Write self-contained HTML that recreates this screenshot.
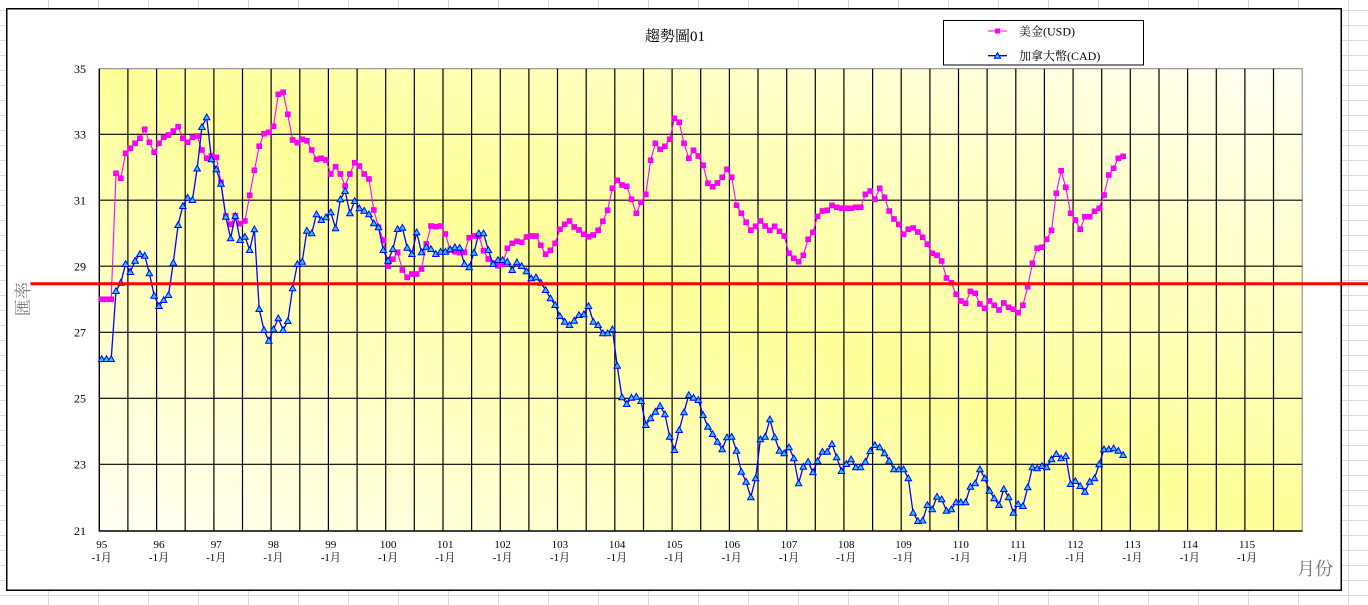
<!DOCTYPE html>
<html><head><meta charset="utf-8">
<style>
html,body{margin:0;padding:0;background:#fff;}
svg{display:block;}
.t{font-family:"Liberation Serif","Noto Serif CJK SC","Noto Sans CJK TC",serif;}
</style></head>
<body>
<svg width="1368" height="605" viewBox="0 0 1368 605" xmlns="http://www.w3.org/2000/svg">
<defs>
<linearGradient id="bg" x1="0" y1="1" x2="1" y2="0">
<stop offset="0" stop-color="#fffff4"/>
<stop offset="0.5" stop-color="#ffff99"/>
<stop offset="1" stop-color="#fffff4"/>
</linearGradient>
<marker id="sq" markerUnits="userSpaceOnUse" markerWidth="6" markerHeight="6" refX="3" refY="3" viewBox="0 0 6 6" orient="0">
<rect x="0.5" y="0.5" width="5" height="5" fill="#ff00ff" stroke="#e000e0" stroke-width="0.6"/>
</marker>
<marker id="tri" markerUnits="userSpaceOnUse" markerWidth="8" markerHeight="8" refX="4" refY="4.3" viewBox="0 0 8 8" orient="0">
<path d="M4 1 L7.3 6.8 L0.7 6.8 Z" fill="#22ccff" stroke="#0000ff" stroke-width="1"/>
</marker>
</defs>

<!-- worksheet grid -->
<g stroke="#dadada" stroke-width="1">
<path d="M48.5 0V605M98.5 0V605M148.5 0V605M198.5 0V605M248.5 0V605M298.5 0V605M348.5 0V605M398.5 0V605M448.5 0V605M498.5 0V605M548.5 0V605M598.5 0V605M648.5 0V605M698.5 0V605M748.5 0V605M798.5 0V605M848.5 0V605M898.5 0V605M948.5 0V605M998.5 0V605M1048.5 0V605M1098.5 0V605M1148.5 0V605M1198.5 0V605M1248.5 0V605M1298.5 0V605M1348.5 0V605"/>
<path d="M0 10.5H1368M0 25.5H1368M0 40.5H1368M0 55.5H1368M0 70.5H1368M0 85.5H1368M0 100.5H1368M0 115.5H1368M0 130.5H1368M0 145.5H1368M0 160.5H1368M0 175.5H1368M0 190.5H1368M0 205.5H1368M0 220.5H1368M0 235.5H1368M0 250.5H1368M0 265.5H1368M0 280.5H1368M0 295.5H1368M0 310.5H1368M0 325.5H1368M0 340.5H1368M0 355.5H1368M0 370.5H1368M0 385.5H1368M0 400.5H1368M0 415.5H1368M0 430.5H1368M0 445.5H1368M0 460.5H1368M0 475.5H1368M0 490.5H1368M0 505.5H1368M0 520.5H1368M0 535.5H1368M0 550.5H1368M0 565.5H1368M0 580.5H1368M0 595.5H1368"/>
</g>

<!-- chart area -->
<rect x="6.75" y="8.75" width="1334.5" height="581.5" fill="#fff" stroke="#000" stroke-width="1.5"/>

<!-- plot area -->
<rect x="99.3" y="68.7" width="1202.9" height="462.3" fill="url(#bg)" stroke="#808080" stroke-width="1"/>

<!-- gridlines -->
<g stroke="#000" stroke-width="1.2" fill="none">
<path d="M99.3 134.3H1302.2M99.3 200.2H1302.2M99.3 266.2H1302.2M99.3 332.3H1302.2M99.3 398.3H1302.2M99.3 464.3H1302.2"/>
<path d="M127.9 68.7V531M156.6 68.7V531M185.2 68.7V531M213.9 68.7V531M242.5 68.7V531M271.1 68.7V531M299.8 68.7V531M328.4 68.7V531M357.1 68.7V531M385.7 68.7V531M414.3 68.7V531M443 68.7V531M471.6 68.7V531M500.3 68.7V531M528.9 68.7V531M557.5 68.7V531M586.2 68.7V531M614.8 68.7V531M643.5 68.7V531M672.1 68.7V531M700.7 68.7V531M729.4 68.7V531M758 68.7V531M786.7 68.7V531M815.3 68.7V531M843.9 68.7V531M872.6 68.7V531M901.2 68.7V531M929.9 68.7V531M958.5 68.7V531M987.1 68.7V531M1015.8 68.7V531M1044.4 68.7V531M1073.1 68.7V531M1101.7 68.7V531M1130.3 68.7V531M1159 68.7V531M1187.6 68.7V531M1216.3 68.7V531M1244.9 68.7V531M1273.5 68.7V531"/>
<path d="M99.3 68.7V531.5M99 531H1302.5" stroke-width="1.4"/>
</g>

<!-- USD series -->
<polyline fill="none" stroke="#ff00ff" stroke-width="1.1" marker-start="url(#sq)" marker-mid="url(#sq)" marker-end="url(#sq)" points="101.7,299.3 106.5,299.3 111.2,299.3 116.0,173.3 120.8,178.3 125.6,153.3 130.3,148.3 135.1,143.3 139.9,138.3 144.7,129.3 149.4,142.3 154.2,152.3 159.0,143.3 163.7,137.3 168.5,135 173.3,131 178.1,126.7 182.8,138.3 187.6,142.3 192.4,137.3 197.2,136 201.9,150 206.7,158.3 211.5,155.7 216.3,157.3 221.0,182.3 225.8,216 230.6,224.3 235.3,215.7 240.1,223.7 244.9,221 249.7,195.3 254.4,170.3 259.2,146.3 264.0,133.7 268.8,132.3 273.5,126.3 278.3,94.3 283.1,92.3 287.8,114.3 292.6,140 297.4,142.7 302.2,139.3 306.9,140.7 311.7,150 316.5,159.3 321.3,158.3 326.0,160 330.8,174 335.6,166.7 340.4,174 345.1,186 349.9,174 354.7,162.7 359.4,166 364.2,174 369.0,179 373.8,210 378.5,227.3 383.3,240 388.1,266 392.9,259.3 397.6,252.3 402.4,270 407.2,277.3 411.9,274 416.7,274 421.5,269 426.3,244 431.0,226 435.8,226.7 440.6,226 445.4,234 450.1,250 454.9,251.7 459.7,252.7 464.4,252.3 469.2,237.7 474.0,236 478.8,236 483.5,250.7 488.3,259 493.1,263.3 497.9,265.7 502.6,264.3 507.4,248.3 512.2,243.3 516.9,241.3 521.7,242.3 526.5,237 531.3,236 536.0,236 540.8,245.3 545.6,254.3 550.4,250.3 555.1,243.3 559.9,229.3 564.7,224.3 569.5,221 574.2,227 579.0,230 583.8,234.3 588.5,236.7 593.3,235 598.1,230.3 602.9,221.3 607.6,210.3 612.4,188.3 617.2,180.3 622.0,185 626.7,186.3 631.5,199.3 636.3,213.3 641.0,202.3 645.8,194.3 650.6,160.3 655.4,143.3 660.1,149.3 664.9,146.3 669.7,139.3 674.5,118.3 679.2,122.3 684.0,143.3 688.8,158.3 693.5,150.3 698.3,156 703.1,165.3 707.9,183.3 712.6,186.7 717.4,183 722.2,177.3 727.0,169.3 731.7,177.3 736.5,205.3 741.3,213.3 746.1,222.3 750.8,230.3 755.6,226.3 760.4,221 765.1,226 769.9,230.3 774.7,226.3 779.5,231.3 784.2,236 789.0,253.3 793.8,258.3 798.6,261.7 803.3,255.3 808.1,239.3 812.9,232.3 817.6,216.3 822.4,211 827.2,210.3 832.0,205.3 836.7,207.3 841.5,208.3 846.3,208.3 851.1,208.3 855.8,207.3 860.6,207.3 865.4,194.3 870.2,191 874.9,199.3 879.7,188.3 884.5,197.3 889.2,211 894.0,219 898.8,224.3 903.6,234.3 908.3,229.3 913.1,228 917.9,232 922.7,237.3 927.4,244.3 932.2,253.3 937.0,255.3 941.7,261 946.5,278 951.3,282.7 956.1,294.3 960.8,301 965.6,303.3 970.4,291.3 975.2,293.3 979.9,304 984.7,308.3 989.5,301 994.2,305.3 999.0,310 1003.8,303 1008.6,307.3 1013.3,309.3 1018.1,312.7 1022.9,305.3 1027.7,286.7 1032.4,263.3 1037.2,248.3 1042.0,247.3 1046.7,239.3 1051.5,230.3 1056.3,193.3 1061.1,170.7 1065.8,187.3 1070.6,213.3 1075.4,220 1080.2,229.3 1084.9,216.7 1089.7,216.7 1094.5,211.3 1099.2,208.3 1104.0,195 1108.8,175 1113.6,168.3 1118.3,158.3 1123.1,156.3"/>

<!-- CAD series -->
<polyline fill="none" stroke="#0000ff" stroke-width="1.3" marker-start="url(#tri)" marker-mid="url(#tri)" marker-end="url(#tri)" points="101.7,359 106.5,359 111.2,359 116.0,291 120.8,282.7 125.6,264 130.3,272 135.1,260.7 139.9,254 144.7,255.7 149.4,273.3 154.2,295.7 159.0,306 163.7,300 168.5,295 173.3,262.7 178.1,225 182.8,206 187.6,197.7 192.4,200 197.2,168.5 201.9,127 206.7,117.3 211.5,159.3 216.3,169.3 221.0,183.8 225.8,216.7 230.6,238.3 235.3,216 240.1,240 244.9,236.7 249.7,250 254.4,229.3 259.2,309 264.0,330 268.8,340.7 273.5,329.3 278.3,318.3 283.1,330 287.8,321 292.6,288.3 297.4,264 302.2,261.7 306.9,230.7 311.7,233.3 316.5,214.3 321.3,220 326.0,217.3 330.8,212.3 335.6,228.3 340.4,199.3 345.1,191 349.9,213.3 354.7,201 359.4,208.3 364.2,210.7 369.0,214.3 373.8,223.3 378.5,227.3 383.3,250 388.1,260.7 392.9,249 397.6,229 402.4,227.7 407.2,247.7 411.9,254 416.7,232.3 421.5,252.3 426.3,246.7 431.0,249 435.8,254 440.6,251.7 445.4,251.7 450.1,249.3 454.9,247.3 459.7,247.7 464.4,264 469.2,267.3 474.0,252.7 478.8,233.3 483.5,233.3 488.3,250 493.1,264 497.9,260 502.6,260 507.4,261.7 512.2,270 516.9,262.3 521.7,266 526.5,271.3 531.3,278.3 536.0,277.3 540.8,282.7 545.6,290 550.4,298.3 555.1,305 559.9,316 564.7,321.7 569.5,325 574.2,320.7 579.0,315 583.8,314.3 588.5,306 593.3,321.7 598.1,325 602.9,333.3 607.6,333.3 612.4,329.3 617.2,365.7 622.0,397.3 626.7,404 631.5,397.7 636.3,396.7 641.0,401 645.8,425 650.6,418.3 655.4,411.7 660.1,406 664.9,414.3 669.7,436.7 674.5,450 679.2,430 684.0,412.3 688.8,395 693.5,397.7 698.3,400 703.1,415 707.9,426.7 712.6,434 717.4,441.7 722.2,449.3 727.0,437.3 731.7,436.7 736.5,450.7 741.3,471.7 746.1,481.7 750.8,497.3 755.6,478.3 760.4,439.3 765.1,436.7 769.9,419.3 774.7,437.3 779.5,450.7 784.2,453.3 789.0,447.3 793.8,458.3 798.6,483.3 803.3,466.7 808.1,461.7 812.9,472.3 817.6,461 822.4,451.7 827.2,451.7 832.0,444 836.7,457.3 841.5,471 846.3,464 851.1,459.3 855.8,467.3 860.6,467.3 865.4,461.7 870.2,451 874.9,445 879.7,447.3 884.5,453.3 889.2,460.7 894.0,469.3 898.8,469.3 903.6,469.3 908.3,478.3 913.1,512.7 917.9,521 922.7,520.5 927.4,505 932.2,509.3 937.0,496.7 941.7,499.3 946.5,510.7 951.3,509.3 956.1,502.3 960.8,502.3 965.6,502.3 970.4,486.7 975.2,483.3 979.9,469.3 984.7,478.3 989.5,490.7 994.2,498.3 999.0,505 1003.8,489 1008.6,497.3 1013.3,512.7 1018.1,504 1022.9,506 1027.7,487.3 1032.4,467.3 1037.2,468.3 1042.0,466 1046.7,467.3 1051.5,459.3 1056.3,454 1061.1,458.3 1065.8,456 1070.6,484 1075.4,481 1080.2,486 1084.9,491.7 1089.7,481.7 1094.5,478.3 1099.2,464.3 1104.0,449.3 1108.8,449.3 1113.6,448.3 1118.3,450.7 1123.1,455"/>

<!-- Y tick labels -->
<g class="t" font-size="12" fill="#000" text-anchor="end">
<text x="86" y="72.9">35</text>
<text x="86" y="138.5">33</text>
<text x="86" y="204.4">31</text>
<text x="86" y="270.4">29</text>
<text x="86" y="336.5">27</text>
<text x="86" y="402.5">25</text>
<text x="86" y="468.5">23</text>
<text x="86" y="535.2">21</text>
</g>

<!-- X tick labels -->
<g class="t" font-size="11" fill="#000" text-anchor="middle">
<text x="101.7" y="548">95</text><text x="101.7" y="561">-1月</text>
<text x="159" y="548">96</text><text x="159" y="561">-1月</text>
<text x="216.2" y="548">97</text><text x="216.2" y="561">-1月</text>
<text x="273.5" y="548">98</text><text x="273.5" y="561">-1月</text>
<text x="330.8" y="548">99</text><text x="330.8" y="561">-1月</text>
<text x="388.1" y="548">100</text><text x="388.1" y="561">-1月</text>
<text x="445.3" y="548">101</text><text x="445.3" y="561">-1月</text>
<text x="502.6" y="548">102</text><text x="502.6" y="561">-1月</text>
<text x="559.9" y="548">103</text><text x="559.9" y="561">-1月</text>
<text x="617.1" y="548">104</text><text x="617.1" y="561">-1月</text>
<text x="674.4" y="548">105</text><text x="674.4" y="561">-1月</text>
<text x="731.7" y="548">106</text><text x="731.7" y="561">-1月</text>
<text x="789" y="548">107</text><text x="789" y="561">-1月</text>
<text x="846.2" y="548">108</text><text x="846.2" y="561">-1月</text>
<text x="903.5" y="548">109</text><text x="903.5" y="561">-1月</text>
<text x="960.8" y="548">110</text><text x="960.8" y="561">-1月</text>
<text x="1018" y="548">111</text><text x="1018" y="561">-1月</text>
<text x="1075.3" y="548">112</text><text x="1075.3" y="561">-1月</text>
<text x="1132.6" y="548">113</text><text x="1132.6" y="561">-1月</text>
<text x="1189.8" y="548">114</text><text x="1189.8" y="561">-1月</text>
<text x="1247.1" y="548">115</text><text x="1247.1" y="561">-1月</text>
</g>

<!-- Title -->
<text class="t" x="675" y="41" font-size="15" fill="#000" text-anchor="middle">趨勢圖01</text>

<!-- Axis titles -->
<text class="t" x="1297" y="575" font-size="18" fill="#6e6e6e">月份</text>
<text class="t" transform="translate(29,299) rotate(-90)" font-size="17" fill="#7a7a7a" text-anchor="middle">匯率</text>

<!-- Legend -->
<rect x="943.5" y="20.5" width="200" height="44.5" fill="#fff" stroke="#000" stroke-width="1"/>
<line x1="988" y1="31" x2="1007" y2="31" stroke="#ff00ff" stroke-width="1.1"/>
<rect x="995" y="28.5" width="5" height="5" fill="#ff00ff"/>
<line x1="988" y1="55.7" x2="1007" y2="55.7" stroke="#0000ff" stroke-width="1.3"/>
<path d="M997.5 52.7 L1000.6 58.2 L994.4 58.2 Z" fill="#22ccff" stroke="#0000ff" stroke-width="1"/>
<g class="t" font-size="12" fill="#000">
<text x="1019" y="35.5">美金(USD)</text>
<text x="1019" y="60">加拿大幣(CAD)</text>
</g>

<!-- red reference line -->
<line x1="30.5" y1="283.8" x2="1368" y2="283.8" stroke="#ff0000" stroke-width="3"/>
</svg>
</body></html>
